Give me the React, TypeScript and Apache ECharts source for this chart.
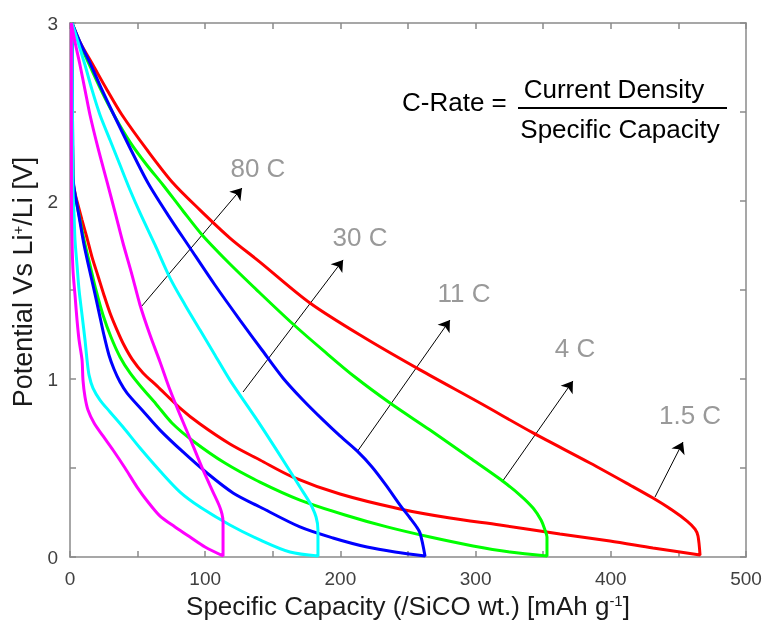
import React, { useEffect, useRef } from "react";
import * as echarts from "echarts";

// ---- data (x: specific capacity mAh/g, y: potential V) ----
const rateNames = ["1.5 C", "4 C", "11 C", "30 C", "80 C"];
const rateColors = ["#ff0000", "#00ff00", "#0000ff", "#00ffff", "#ff00ff"];

const red15Upper = [[1.5, 3], [7.4, 2.893], [17.0, 2.764], [27.4, 2.624], [38.5, 2.483], [57.0, 2.287], [76.2, 2.101], [96.2, 1.949], [118.3, 1.792], [140.5, 1.657], [177.5, 1.427], [218.2, 1.23], [258.9, 1.051], [303.3, 0.865], [342.5, 0.697], [384.6, 0.528], [414.2, 0.404], [431.2, 0.331], [445.3, 0.264], [456.4, 0.202], [462.3, 0.157], [464.5, 0.118]];
const red15Lower = [[466.0, 0.011], [431.2, 0.051], [399.4, 0.09], [362.4, 0.129], [318.0, 0.18], [281.1, 0.219], [244.1, 0.27], [199.7, 0.354], [164.9, 0.449], [140.5, 0.545], [118.3, 0.635], [96.2, 0.747], [81.4, 0.837], [64.3, 0.961], [54.0, 1.034], [45.9, 1.112], [39.9, 1.191], [34.8, 1.275], [29.6, 1.371], [25.1, 1.472], [20.7, 1.579], [16.3, 1.685], [12.6, 1.792], [8.9, 1.893], [5.9, 1.978], [3.7, 2.045], [2.2, 2.118], [1.5, 3]];

const green4Upper = [[1.5, 3], [7.4, 2.882], [14.8, 2.758], [23.7, 2.612], [33.3, 2.472], [44.4, 2.331], [56.2, 2.208], [68.8, 2.09], [83.6, 1.944], [98.4, 1.803], [118.3, 1.646], [140.5, 1.483], [164.9, 1.309], [188.6, 1.152], [210.8, 1.011], [236.7, 0.865], [266.3, 0.713], [295.9, 0.556], [318.0, 0.438], [332.8, 0.348], [342.5, 0.275], [348.4, 0.208], [351.3, 0.152], [352.8, 0.112]];
const green4Lower = [[352.8, 0.006], [325.4, 0.028], [298.1, 0.062], [266.3, 0.112], [234.5, 0.169], [203.4, 0.236], [170.1, 0.32], [140.5, 0.421], [114.6, 0.528], [91.0, 0.652], [75.4, 0.753], [63.6, 0.86], [53.3, 0.949], [44.4, 1.034], [37.0, 1.124], [30.3, 1.236], [24.4, 1.36], [19.2, 1.5], [14.8, 1.64], [10.4, 1.781], [6.7, 1.921], [3.7, 2.034], [2.2, 2.118], [1.5, 3]];

const blue11Upper = [[1.5, 3], [7.4, 2.893], [15.5, 2.764], [23.7, 2.624], [32.5, 2.483], [44.4, 2.298], [57.7, 2.101], [72.5, 1.921], [88.8, 1.736], [107.2, 1.528], [125.7, 1.331], [142.0, 1.163], [157.5, 1.006], [172.3, 0.882], [187.1, 0.77], [199.7, 0.68], [212.3, 0.596], [223.4, 0.506], [233.7, 0.404], [244.1, 0.292], [251.5, 0.219], [255.9, 0.174], [258.9, 0.135]];
const blue11Lower = [[262.6, 0.006], [240.4, 0.028], [219.7, 0.056], [194.5, 0.107], [170.1, 0.169], [140.5, 0.281], [120.6, 0.36], [101.3, 0.472], [83.6, 0.59], [66.6, 0.713], [53.3, 0.826], [42.2, 0.921], [37.0, 0.983], [32.5, 1.056], [28.8, 1.135], [25.1, 1.247], [21.4, 1.376], [17.8, 1.5], [14.1, 1.624], [10.4, 1.753], [7.4, 1.882], [5.2, 1.978], [3.0, 2.073], [2.2, 2.146], [1.5, 3]];

const cyan30Upper = [[1.5, 3], [5.9, 2.893], [11.1, 2.764], [16.3, 2.624], [22.2, 2.483], [29.6, 2.343], [37.0, 2.202], [44.4, 2.062], [51.8, 1.933], [62.9, 1.753], [74.0, 1.567], [85.1, 1.416], [96.2, 1.275], [107.2, 1.135], [118.3, 0.994], [138.3, 0.77], [157.5, 0.545], [170.1, 0.393], [177.5, 0.303], [182.0, 0.225], [183.4, 0.152]];
const cyan30Lower = [[183.4, 0.006], [162.7, 0.028], [140.5, 0.096], [118.3, 0.18], [96.2, 0.281], [81.4, 0.365], [66.6, 0.483], [51.8, 0.612], [39.2, 0.73], [29.6, 0.815], [22.2, 0.882], [17.0, 0.949], [14.1, 1.022], [12.6, 1.107], [11.1, 1.219], [8.9, 1.36], [6.7, 1.5], [5.2, 1.64], [3.7, 1.781], [3.0, 1.921], [2.2, 2.062], [1.5, 3]];

const magenta80Upper = [[1, 3], [3.7, 2.893], [7.4, 2.764], [11.1, 2.624], [14.8, 2.483], [20.7, 2.298], [27.4, 2.107], [33.3, 1.938], [39.2, 1.764], [45.9, 1.584], [51.8, 1.416], [59.2, 1.247], [66.6, 1.096], [74.0, 0.938], [81.4, 0.798], [90.2, 0.64], [98.4, 0.489], [105.8, 0.365], [110.2, 0.292], [112.4, 0.242], [113.2, 0.197]];
const magenta80Lower = [[113.2, 0.006], [99.9, 0.056], [88.8, 0.112], [77.7, 0.169], [66.6, 0.23], [57.7, 0.309], [49.6, 0.393], [40.7, 0.5], [31.8, 0.601], [24.4, 0.68], [17.8, 0.753], [13.3, 0.826], [11.1, 0.899], [9.6, 0.994], [8.9, 1.107], [6.7, 1.219], [5.2, 1.331], [3.7, 1.472], [2.2, 1.612], [1.5, 1.781], [1.1, 1.949], [1, 3]];

const upperCurves = [red15Upper, green4Upper, blue11Upper, cyan30Upper, magenta80Upper];
const lowerCurves = [red15Lower, green4Lower, blue11Lower, cyan30Lower, magenta80Lower];

// annotation arrows (start -> end, data coords) and label anchors
const arrowStarts = [[432.7, 0.337], [319.5, 0.421], [212.3, 0.59], [128, 0.927], [52.5, 1.404]];
const arrowEnds = [[453.4, 0.646], [372, 0.989], [281, 1.331], [202, 1.669], [127.2, 2.073]];
const labelPoints = [[458.6, 0.8], [373.5, 1.174], [291.4, 1.483], [214.5, 1.8], [139, 2.185]];

const xTickLabels = [0, 100, 200, 300, 400, 500];
const yTickLabels = [0, 1, 2, 3];

const FONT = "'Liberation Sans', Arial, Helvetica, sans-serif";
const AXIS_GRAY = "#8a8a8a";

// duplicate the sharp corners so smoothing keeps them crisp
function buildLoop(upper: number[][], lower: number[][]) {
  const lastLower = lower[lower.length - 2];
  return [
    ...upper,
    lower[0],
    ...lower.slice(0, lower.length - 1),
    lastLower,
    lower[lower.length - 1],
  ];
}

export default function App() {
  const ref = useRef<HTMLDivElement>(null);

  useEffect(() => {
    if (!ref.current) return;
    const chart = echarts.init(ref.current, null, { renderer: "svg" });

    const axisCommon = {
      type: "value",
      splitLine: { show: false },
      axisLine: { show: true, onZero: false, lineStyle: { color: AXIS_GRAY, width: 1.5 } },
      axisTick: { show: true, inside: true, length: 6, lineStyle: { color: AXIS_GRAY, width: 1.5 } },
    };

    const loopSeries = rateNames.map((name, i) => ({
      name,
      type: "line",
      data: buildLoop(upperCurves[i], lowerCurves[i]),
      showSymbol: false,
      symbol: "none",
      smooth: 0.3,
      lineStyle: { color: rateColors[i], width: 3 },
      itemStyle: { color: rateColors[i] },
      z: 3,
    }));

    const arrowSeries = {
      type: "lines",
      coordinateSystem: "cartesian2d",
      data: arrowStarts.map((s, i) => ({ coords: [s, arrowEnds[i]] })),
      lineStyle: { color: "#000", width: 1, opacity: 1 },
      symbol: ["none", "arrow"],
      symbolSize: 11,
      z: 2,
    };

    const labelSeries = {
      type: "scatter",
      data: labelPoints.map((p, i) => ({ value: p, name: rateNames[i] })),
      symbolSize: 1,
      itemStyle: { color: "rgba(0,0,0,0)" },
      label: {
        show: true,
        position: "inside",
        formatter: (p: any) => p.name,
        color: "#808080",
        fontSize: 26,
        fontFamily: FONT,
      },
      z: 4,
    };

    const nameStyle = (size: number, padding: number[]) => ({
      fontSize: size,
      fontFamily: FONT,
      color: "#1a1a1a",
      padding,
      rich: {
        a: { fontSize: size, fontFamily: FONT, color: "#1a1a1a" },
        s: { fontSize: 15, fontFamily: FONT, color: "#1a1a1a", verticalAlign: "top" },
      },
    });

    const option = {
      animation: false,
      grid: { left: 70, right: 21, top: 23, bottom: 67 },
      xAxis: [
        {
          ...axisCommon,
          position: "bottom",
          min: 0,
          max: 500,
          interval: 50,
          axisLabel: {
            color: "#404040",
            fontSize: 19,
            fontFamily: FONT,
            margin: 12,
            formatter: (v: number) => (xTickLabels.includes(v) ? String(v) : ""),
          },
          name: "{a|Specific Capacity (/SiCO wt.) [mAh g}{s|-1}{a|]}",
          nameLocation: "middle",
          nameGap: 36,
          nameTextStyle: nameStyle(26, [0, 0, 0, 0]),
        },
        {
          ...axisCommon,
          position: "top",
          min: 0,
          max: 500,
          interval: 50,
          axisLabel: { show: false },
        },
      ],
      yAxis: [
        {
          ...axisCommon,
          position: "left",
          min: 0,
          max: 3,
          interval: 0.5,
          axisLabel: {
            color: "#404040",
            fontSize: 19,
            fontFamily: FONT,
            margin: 12,
            formatter: (v: number) => (yTickLabels.includes(v) ? String(v) : ""),
          },
          name: "{a|Potential Vs Li}{s|+}{a|/Li [V]}",
          nameLocation: "middle",
          nameGap: 33,
          nameTextStyle: nameStyle(27, [0, 0, 0, 16]),
        },
        {
          ...axisCommon,
          position: "right",
          min: 0,
          max: 3,
          interval: 0.5,
          axisLabel: { show: false },
        },
      ],
      graphic: [
        {
          type: "text",
          left: 402,
          top: 89,
          style: { text: "C-Rate =", fontSize: 26, fontFamily: FONT, fill: "#000" },
        },
        {
          type: "line",
          shape: { x1: 518, y1: 108, x2: 727, y2: 108 },
          style: { stroke: "#000", lineWidth: 2 },
        },
        {
          type: "text",
          x: 614,
          y: 89,
          style: { text: "Current Density", fontSize: 26, fontFamily: FONT, fill: "#000", align: "center", verticalAlign: "middle" },
        },
        {
          type: "text",
          x: 620,
          y: 129,
          style: { text: "Specific Capacity", fontSize: 26, fontFamily: FONT, fill: "#000", align: "center", verticalAlign: "middle" },
        },
      ],
      series: [arrowSeries, ...loopSeries, labelSeries],
    };

    chart.setOption(option as any);
    return () => chart.dispose();
  }, []);

  return (
    <div
      ref={ref}
      style={{ position: "fixed", left: 0, top: 0, width: 767, height: 624 }}
    />
  );
}
